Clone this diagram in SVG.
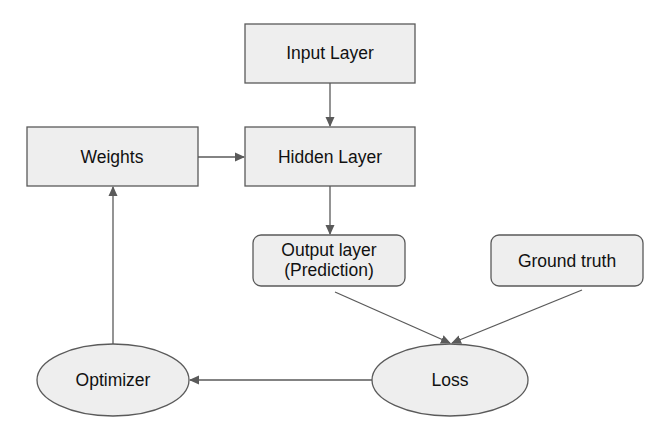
<svg xmlns="http://www.w3.org/2000/svg" width="666" height="434" viewBox="0 0 666 434">
<defs>
<marker id="ah" markerWidth="10" markerHeight="10" refX="9" refY="5" orient="auto" markerUnits="userSpaceOnUse">
<path d="M0,0.5 L10,5 L0,9.5 Z" fill="#5a5a5a"/>
</marker>
</defs>
<style>
.n{fill:#eeeeee;stroke:#5a5a5a;stroke-width:1.3}
.t{font-family:"Liberation Sans",Arial,sans-serif;font-size:17.5px;fill:#111;text-anchor:middle;dominant-baseline:central}
.c{stroke:#5a5a5a;stroke-width:1.3;fill:none;marker-end:url(#ah)}
</style>
<rect width="666" height="434" fill="#ffffff"/>
<g id="connectors">
<line class="c" x1="330" y1="83" x2="330" y2="126"/>
<line class="c" x1="198" y1="157" x2="244" y2="157"/>
<line class="c" x1="330" y1="186" x2="330" y2="234"/>
<line class="c" x1="335" y1="292" x2="450" y2="343"/>
<line class="c" x1="582" y1="290" x2="452" y2="343"/>
<line class="c" x1="372" y1="380" x2="190" y2="380"/>
<line class="c" x1="113" y1="344" x2="113" y2="187"/>
</g>
<g id="input"><rect class="n" x="245" y="24" width="170" height="59"/><text class="t" x="330" y="53">Input Layer</text></g>
<g id="hidden"><rect class="n" x="245" y="127" width="170" height="59"/><text class="t" x="330" y="157">Hidden Layer</text></g>
<g id="weights"><rect class="n" x="27" y="127" width="171" height="59"/><text class="t" x="112" y="157">Weights</text></g>
<g id="output"><rect class="n" x="253" y="235" width="152" height="51" rx="8"/><text class="t" x="329" y="250">Output layer</text><text class="t" x="329" y="270">(Prediction)</text></g>
<g id="ground"><rect class="n" x="491" y="235" width="152" height="51" rx="8"/><text class="t" x="567" y="261">Ground truth</text></g>
<g id="loss"><ellipse class="n" cx="450" cy="380" rx="78" ry="36"/><text class="t" x="450" y="380">Loss</text></g>
<g id="optimizer"><ellipse class="n" cx="113" cy="380" rx="76" ry="36"/><text class="t" x="113" y="380">Optimizer</text></g>
</svg>
